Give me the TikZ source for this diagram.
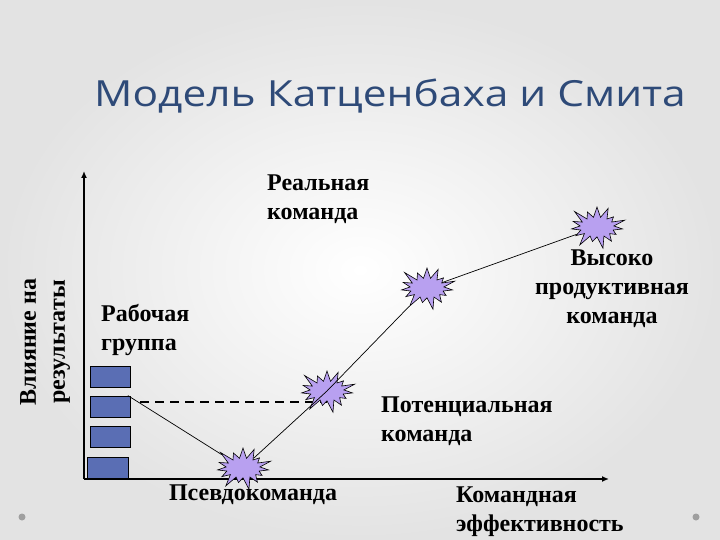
\documentclass[tikz,border=0pt]{standalone}
\usepackage{fontspec}
\setmainfont{Liberation Serif}
\newfontfamily\titlefont[FakeStretch=1.18]{Open Sans}
\usetikzlibrary{arrows.meta,shapes.symbols}
\definecolor{burstfill}{RGB}{184,160,240}
\definecolor{barfill}{RGB}{90,110,180}
\definecolor{titleblue}{RGB}{46,74,120}
\pgfdeclarelayer{bg}
\pgfsetlayers{bg,main}
\tikzset{
  burst/.style={starburst,draw=black,fill=burstfill,line width=0.6pt,
    inner xsep=12pt,inner ysep=7pt,starburst points=15,
    starburst point height=14pt},
  bar/.style={draw=black,fill=barfill,line width=0.8pt,
    minimum width=40pt,minimum height=21pt,inner sep=0pt},
  lbl/.style={font=\bfseries\fontsize{24}{29}\selectfont,align=left,inner sep=0pt},
  dot/.style={circle,fill=gray!75,inner sep=0pt,minimum size=7pt}
}
\begin{document}
\begin{tikzpicture}[x=1pt,y=-1pt]
      \begin{pgfonlayer}{bg}
      \shade[inner color=white,outer color=gray!22](0,0)rectangle(720,540);
      \end{pgfonlayer}
      \useasboundingbox(0,0)rectangle(720,540);

      \node[font=\titlefont\fontsize{36}{40}\selectfont,text=titleblue](title) at (390,96){Модель Катценбаха и Смита};

      \coordinate(O) at (84,479);
      \coordinate(Ytop) at (84,171);
      \coordinate(Xend) at (609,479);
      \draw[line width=2pt,-{Latex[length=7pt,width=6pt]}](O)--(Ytop);
      \draw[line width=2pt,-{Latex[length=7pt,width=6pt]}](O)--(Xend);

      \node[bar](R1) at (110.5,376.5){};
      \node[bar](R2) at (110.5,406.5){};
      \node[bar](R3) at (110.5,436.5){};
      \node[bar,minimum width=41pt](R4) at (107.5,467.5){};

      \node[burst](S1) at (243,468){};
      \node[burst](S2) at (327,391){};
      \node[burst](S3) at (427,288){};
      \node[burst](S4) at (597,227){};

      \coordinate(D) at (140,402);
      \begin{pgfonlayer}{bg}
      \draw[line width=2.5pt,dash pattern=on 9pt off 6pt](D)--(S2.center |- D);
      \end{pgfonlayer}
      \draw[line width=0.7pt](R2.north east)++(-3,0)--(S1);
      \draw[line width=0.7pt](S1)--(S2.center)--(S3)--(S4);

      \node[lbl,anchor=north west](real) at (267,175){Реальная\\команда};
      \node[lbl,anchor=north,align=center](high) at (612,250){Высоко\\продуктивная\\команда};
      \node[lbl,anchor=north west](work) at (101,304){Рабочая\\группа};
      \node[lbl,anchor=north west](pot) at (381,397){Потенциальная\\команда};
      \node[lbl,anchor=north](pseudo) at (253,485){Псевдокоманда};
      \node[lbl,anchor=north west](eff) at (456,487){Командная\\эффективность};
      \node[lbl,align=center,rotate=90](infl) at (45,342){Влияние на\\результаты};

      \node[dot](b1) at (22,517){};
      \node[dot](b2) at (696,517){};
    \end{tikzpicture}
\end{document}
